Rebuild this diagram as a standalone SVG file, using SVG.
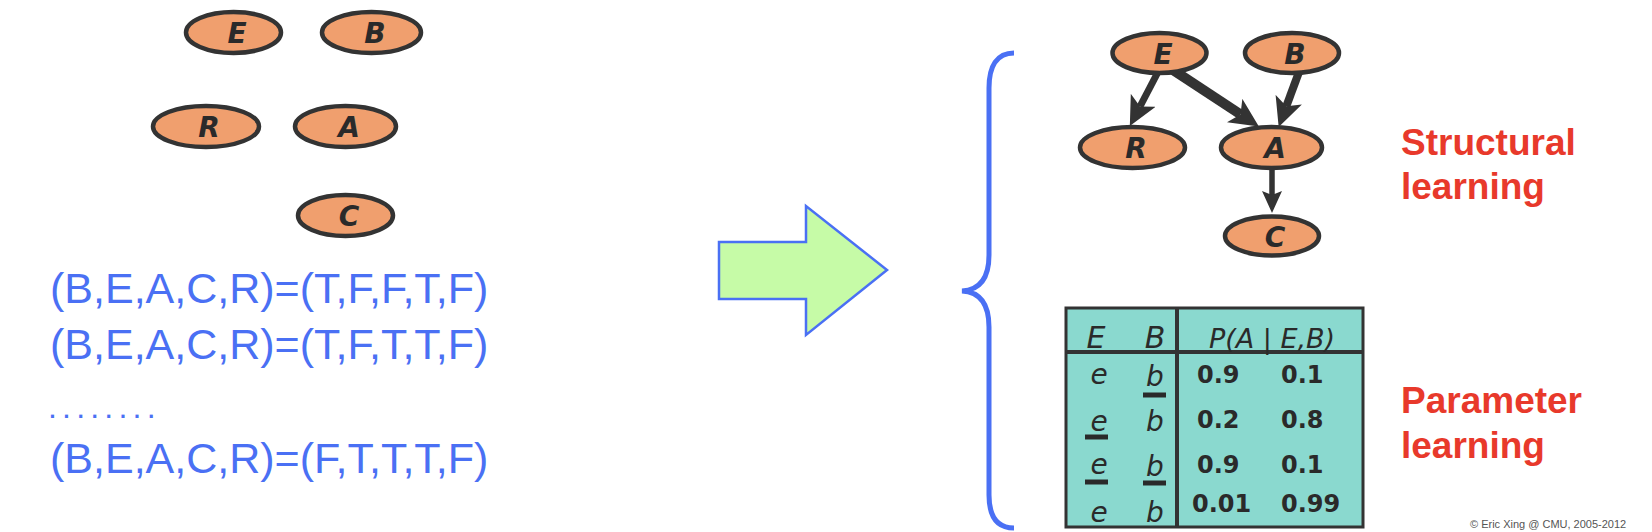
<svg xmlns="http://www.w3.org/2000/svg" width="1652" height="532" viewBox="0 0 1652 532">
<style>
.node ellipse{fill:#F09F6E;stroke:#333;stroke-width:4.5}
.node text{font-family:"DejaVu Sans",sans-serif;font-weight:bold;font-style:italic;font-size:28px;fill:#2a2a2a;text-anchor:middle}
.data{font-family:"Liberation Sans",Arial,sans-serif;font-size:43px;fill:#4A70F4}
.lbl{font-family:"Liberation Sans",Arial,sans-serif;font-weight:bold;font-size:37px;fill:#E8392B}
.edge{stroke:#333;fill:none}
.tv{font-family:"DejaVu Sans",sans-serif;font-style:italic;font-size:28px;fill:#2a2a2a;text-anchor:middle}
.num{font-family:"DejaVu Sans",sans-serif;font-size:24px;fill:#2a2a2a;font-weight:bold}
.ul{stroke:#2a2a2a;stroke-width:5}
</style>
<defs>
<marker id="ah" markerUnits="userSpaceOnUse" markerWidth="30" markerHeight="28" refX="7" refY="14" orient="auto" viewBox="0 0 30 28">
<path d="M0,0 L29,14 L0,28 L7,14 z" fill="#333"/>
</marker>
<marker id="ahs" markerUnits="userSpaceOnUse" markerWidth="22" markerHeight="22" refX="4" refY="11" orient="auto" viewBox="0 0 22 22">
<path d="M0,1 L22,11 L0,21 L4,11 z" fill="#333"/>
</marker>
</defs>

<!-- left: unconnected nodes -->
<g id="L_E" class="node"><ellipse cx="233.5" cy="32.5" rx="47.5" ry="20.5"/><text x="237" y="43">E</text></g>
<g id="L_B" class="node"><ellipse cx="371.5" cy="32.5" rx="49.5" ry="20.5"/><text x="375" y="43">B</text></g>
<g id="L_R" class="node"><ellipse cx="206" cy="126.5" rx="53" ry="20.5"/><text x="209" y="137">R</text></g>
<g id="L_A" class="node"><ellipse cx="345.5" cy="126.5" rx="50.5" ry="20.5"/><text x="349" y="137">A</text></g>
<g id="L_C" class="node"><ellipse cx="345.5" cy="215.5" rx="47.5" ry="20.5"/><text x="349" y="226">C</text></g>

<g id="data">
<text class="data" x="50" y="303">(B,E,A,C,R)=(T,F,F,T,F)</text>
<text class="data" x="50" y="359">(B,E,A,C,R)=(T,F,T,T,F)</text>
<text class="data" x="48" y="418" style="font-size:32px;letter-spacing:5.2px">........</text>
<text class="data" x="50" y="473">(B,E,A,C,R)=(F,T,T,T,F)</text>
</g>

<g id="bigarrow"><polygon points="719,242 806,242 806,206 887,270 806,335 806,299 719,299" fill="#C6FBA7" stroke="#4A70F4" stroke-width="2.5" stroke-linejoin="miter"/></g>

<g id="brace"><path d="M1014,53 C997,53 989,66 989,88 L989,255 C989,278 980,290 962,291 C980,292 989,304 989,327 L989,495 C989,517 997,528 1014,528" fill="none" stroke="#4A70F4" stroke-width="5"/></g>

<!-- right: connectors -->
<g id="connectors">
<line class="edge" x1="1158" y1="72" x2="1140" y2="106.5" stroke-width="7" marker-end="url(#ah)"/>
<line class="edge" x1="1170" y1="68" x2="1240.5" y2="114.4" stroke-width="10" marker-end="url(#ah)"/>
<line class="edge" x1="1299" y1="72" x2="1286.3" y2="106.3" stroke-width="8" marker-end="url(#ah)"/>
<line class="edge" x1="1272" y1="169" x2="1272" y2="195" stroke-width="5.5" marker-end="url(#ahs)"/>
</g>

<g id="R_E" class="node"><ellipse cx="1159.5" cy="53" rx="47" ry="20"/><text x="1163" y="64">E</text></g>
<g id="R_B" class="node"><ellipse cx="1292" cy="53" rx="47" ry="20"/><text x="1295" y="64">B</text></g>
<g id="R_R" class="node"><ellipse cx="1132.5" cy="147.5" rx="52.5" ry="20.5"/><text x="1136" y="158">R</text></g>
<g id="R_A" class="node"><ellipse cx="1271.5" cy="147.5" rx="50.5" ry="20.5"/><text x="1275" y="158">A</text></g>
<g id="R_C" class="node"><ellipse cx="1272" cy="236" rx="47" ry="19.5"/><text x="1275" y="247">C</text></g>

<g id="labels">
<text class="lbl" x="1401" y="155">Structural</text>
<text class="lbl" x="1401" y="199">learning</text>
<text class="lbl" x="1401" y="413">Parameter</text>
<text class="lbl" x="1401" y="458">learning</text>
</g>

<!-- CPT table -->
<g id="cpt">
<rect x="1066" y="308" width="297" height="219" fill="#8AD9CF" stroke="#333" stroke-width="3"/>
<line x1="1066" y1="352" x2="1363" y2="352" stroke="#333" stroke-width="4"/>
<line x1="1177" y1="308" x2="1177" y2="527" stroke="#333" stroke-width="4"/>
<text class="tv" x="1096" y="348" style="font-size:30px">E</text>
<text class="tv" x="1155" y="348" style="font-size:30px">B</text>
<text class="tv" x="1272" y="348" style="font-size:27px">P(A | E,B)</text>
<text class="tv" x="1099" y="384">e</text>
<text class="tv" x="1155" y="386">b</text>
<line class="ul" x1="1143" y1="395" x2="1166" y2="395"/>
<text class="tv" x="1099" y="431">e</text>
<line class="ul" x1="1085" y1="437" x2="1108" y2="437"/>
<text class="tv" x="1155" y="431">b</text>
<text class="tv" x="1099" y="474">e</text>
<line class="ul" x1="1085" y1="482" x2="1108" y2="482"/>
<text class="tv" x="1155" y="476">b</text>
<line class="ul" x1="1143" y1="483" x2="1166" y2="483"/>
<text class="tv" x="1099" y="522">e</text>
<text class="tv" x="1155" y="522">b</text>
<text class="num" x="1197" y="383">0.9</text>
<text class="num" x="1281" y="383">0.1</text>
<text class="num" x="1197" y="428">0.2</text>
<text class="num" x="1281" y="428">0.8</text>
<text class="num" x="1197" y="473">0.9</text>
<text class="num" x="1281" y="473">0.1</text>
<text class="num" x="1192" y="512">0.01</text>
<text class="num" x="1281" y="512">0.99</text>
</g>

<text x="1470" y="528" style="font-family:'Liberation Sans',Arial,sans-serif;font-size:11px;fill:#555">© Eric Xing @ CMU, 2005-2012</text>
</svg>
